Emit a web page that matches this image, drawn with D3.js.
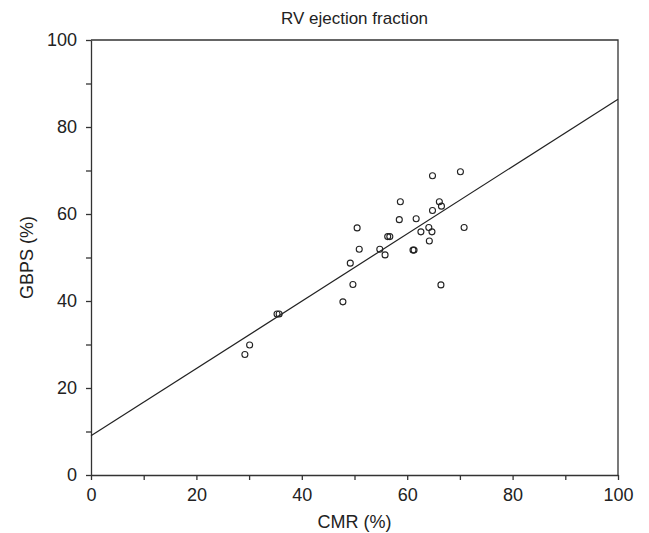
<!DOCTYPE html>
<meta charset="utf-8">
<head>
	<title>RV ejection fraction</title>
	<script type="text/javascript" src="https://cdn.jsdelivr.net/npm/d3@7/dist/d3.min.js"></script>
	<style>
		body { margin: 0; background: #fff; }
		text { font-family: "Liberation Sans", Arial, sans-serif; fill: #222; }
		.axis path, .axis line { stroke: #333; stroke-width: 1.3; }
		.axis text { font-size: 18px; }
	</style>
</head>

<body>
	<div id="chart"></div>
</body>

<script>
	// values
	var cmr  = [64.8, 70.1, 58.7, 66.1, 66.5, 64.8, 58.5, 61.7, 50.5, 64.1, 62.6, 64.7, 70.8, 56.3, 56.7,
	            64.2, 50.9, 54.8, 61.1, 61.3, 55.8, 49.2, 49.7, 66.4, 47.8, 35.3, 35.7, 30.1, 29.2];
	var gbps = [68.8, 69.7, 62.8, 62.8, 61.8, 60.8, 58.7, 58.9, 56.8, 56.9, 55.9, 55.9, 56.9, 54.8, 54.8,
	            53.8, 51.9, 51.9, 51.7, 51.7, 50.6, 48.7, 43.8, 43.7, 39.8, 37.0, 37.0, 29.9, 27.7];
	var fitX = [0, 100];
	var fitY = [9.0, 86.4];
	var ticks = [0, 10, 20, 30, 40, 50, 60, 70, 80, 90, 100];

	var width = 649, height = 533;
	var margin = {left: 91, right: 31, top: 40, bottom: 58};

	var svg = d3.select("#chart").append("svg")
		.attr("width", width)
		.attr("height", height);

	var x = d3.scaleLinear().domain([0, 100]).range([margin.left, width - margin.right]);
	var y = d3.scaleLinear().domain([0, 100]).range([height - margin.bottom, margin.top]);

	var label = function(d) { return d % 20 === 0 ? d : ""; };

	svg.append("g")
		.attr("class", "axis")
		.attr("transform", "translate(0," + y(0) + ")")
		.call(d3.axisBottom(x).tickValues(ticks).tickFormat(label).tickSizeInner(5).tickSizeOuter(0).tickPadding(8));

	svg.append("g")
		.attr("class", "axis")
		.attr("transform", "translate(" + x(0) + ",0)")
		.call(d3.axisLeft(y).tickValues(ticks).tickFormat(label).tickSizeInner(5).tickSizeOuter(0).tickPadding(9));

	// top and right sides of the frame
	svg.append("path")
		.attr("d", "M" + x(0) + "," + y(100) + "H" + x(100) + "V" + y(0))
		.attr("fill", "none")
		.attr("stroke", "#333")
		.attr("stroke-width", 1.3);

	svg.append("line")
		.attr("x1", x(fitX[0])).attr("y1", y(fitY[0]))
		.attr("x2", x(fitX[1])).attr("y2", y(fitY[1]))
		.attr("stroke", "#222")
		.attr("stroke-width", 1.2);

	svg.append("g").selectAll("circle")
		.data(d3.range(cmr.length))
		.enter().append("circle")
		.attr("cx", function(i) { return x(cmr[i]); })
		.attr("cy", function(i) { return y(gbps[i]); })
		.attr("r", 3)
		.attr("fill", "none")
		.attr("stroke", "#222")
		.attr("stroke-width", 1.1);

	svg.append("text")
		.attr("x", (x(0) + x(100)) / 2)
		.attr("y", 24)
		.attr("text-anchor", "middle")
		.style("font-size", "17px")
		.text("RV ejection fraction");

	svg.append("text")
		.attr("x", (x(0) + x(100)) / 2)
		.attr("y", 528)
		.attr("text-anchor", "middle")
		.style("font-size", "18px")
		.text("CMR (%)");

	svg.append("text")
		.attr("transform", "translate(33," + (y(0) + y(100)) / 2 + ") rotate(-90)")
		.attr("text-anchor", "middle")
		.style("font-size", "18px")
		.text("GBPS (%)");
</script>
